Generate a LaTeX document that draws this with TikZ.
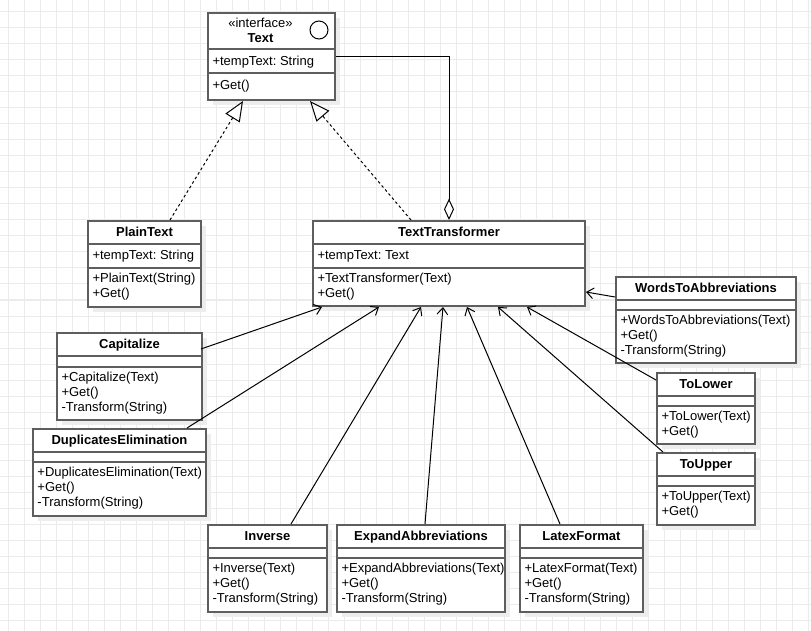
\documentclass[tikz,border=0pt]{standalone}
\usepackage{fontspec}
\setmainfont{Liberation Sans}
\usepackage{tikz}
\usetikzlibrary{arrows.meta,calc,shadows}
\definecolor{gridgray}{HTML}{EBEBEB}
\definecolor{boxgray}{HTML}{5E5E5E}
\definecolor{shadegray}{HTML}{EDEDED}
\frenchspacing

\begin{document}
\begin{tikzpicture}[x=0.75pt, y=-0.75pt, line width=0.75pt,
    classbox/.style={draw=boxgray, line width=1.5pt, fill=white, anchor=north west,
      inner sep=0pt, drop shadow={shadow xshift=4pt, shadow yshift=-4pt,
      fill=shadegray, opacity=1}},
    sepline/.style={draw=boxgray, line width=1.5pt},
    rowtext/.style={font=\fontsize{9.75}{11.25}\selectfont, inner sep=0pt, align=left},
    titletext/.style={font=\fontsize{9.75}{11.25}\selectfont\bfseries, inner sep=0pt},
    extends/.style={-{Straight Barb[length=5pt, width=8pt]}},
    realize/.style={dash pattern=on 2pt off 2pt,
      -{Triangle[open, length=15pt, width=12.5pt, fill=white]}},
    aggreg/.style={-{Diamond[open, length=16pt, width=7.5pt, fill=white]}}]
  \useasboundingbox (0,0) rectangle (811,631);
  \fill[white] (0,0) rectangle (811,631);
  \foreach \gx in {8,24,...,808}
    \draw[gridgray] (\gx,0) -- (\gx,631);
  \foreach \gy in {12,28,...,620}
    \draw[gridgray] (0,\gy) -- (811,\gy);

  \node[classbox, minimum width=127*0.75pt, minimum height=87*0.75pt] (text) at (207,12) {};
  \draw[sepline] ($(text.north west)+(0,37)$) -- ($(text.north east)+(0,37)$);
  \draw[sepline] ($(text.north west)+(0,61)$) -- ($(text.north east)+(0,61)$);
  \node[rowtext, align=center, anchor=north] (text-t) at ($(text.north)+(-11,6)$)
    {«interface»\\\textbf{Text}};
  \node[draw, circle, minimum size=13.5pt, inner sep=0pt] (text-c) at ($(text.north east)+(-17,18)$) {};
  \node[rowtext, anchor=base west] (text-a) at ($(text.north west)+(5,54)$) {+tempText: String};
  \node[rowtext, anchor=base west] (text-o) at ($(text.north west)+(5,78)$) {+Get()};

  \foreach \n/\x/\y/\w/\h/\hb/\ti/\at/\op in {
      plain/87/220/113/86/24/PlainText/{+tempText: String}/{+PlainText(String)\\+Get()},
      tt/312/220/272/85/24/TextTransformer/{+tempText: Text}/{+TextTransformer(Text)\\+Get()},
      cap/56/332/145/87/11/Capitalize/{}/{+Capitalize(Text)\\+Get()\\-Transform(String)},
      dup/32/428/173/87/10/DuplicatesElimination/{}/{+DuplicatesElimination(Text)\\+Get()\\-Transform(String)},
      wta/615/276/180/86/10/WordsToAbbreviations/{}/{+WordsToAbbreviations(Text)\\+Get()\\-Transform(String)},
      tolow/656/372/98/71/10/ToLower/{}/{+ToLower(Text)\\+Get()},
      toup/656/452/98/72/10/ToUpper/{}/{+ToUpper(Text)\\+Get()},
      inv/207/524/119/87/10/Inverse/{}/{+Inverse(Text)\\+Get()\\-Transform(String)},
      exp/336/524/168/87/10/ExpandAbbreviations/{}/{+ExpandAbbreviations(Text)\\+Get()\\-Transform(String)},
      latex/519/524/123/87/10/LatexFormat/{}/{+LatexFormat(Text)\\+Get()\\-Transform(String)}}{
    \node[classbox, minimum width=\w*0.75pt, minimum height=\h*0.75pt] (\n) at (\x,\y) {};
    \draw[sepline] ($(\n.north west)+(0,24)$) -- ($(\n.north east)+(0,24)$);
    \draw[sepline] ($(\n.north west)+(0,24+\hb)$) -- ($(\n.north east)+(0,24+\hb)$);
    \node[titletext, anchor=base] (\n-t) at ($(\n.north)+(0,16.5)$) {\ti};
    \node[rowtext, anchor=base west] (\n-a) at ($(\n.north west)+(5,28+\hb/2)$) {\at};
    \node[rowtext, anchor=north west] (\n-o) at ($(\n.north west)+(5,29+\hb)$) {\op};
  }

  \draw[realize] ($(plain.north west)+(83,0)$) -- ($(text.south west)+(36,0)$);
  \draw[realize] ($(tt.north west)+(99,0)$) -- ($(text.south west)+(103,0)$);
  \draw[aggreg] ($(text.north east)+(0,45)$) -| (tt.north);
  \foreach \src/\dx/\dy/\tgt/\tx/\ty in {cap/145/17/south west/10/0, dup/155/0/south west/67/0,
      inv/84/0/south west/109/0, exp/89/0/south west/131/0, latex/41/0/south west/155/0,
      toup/7/0/south west/186/0, tolow/0/8/south west/215/0, wta/0/21/north east/0/72}
    \draw[extends] ($(\src.north west)+(\dx,\dy)$) -- ($(tt.\tgt)+(\tx,\ty)$);
\end{tikzpicture}
\end{document}
